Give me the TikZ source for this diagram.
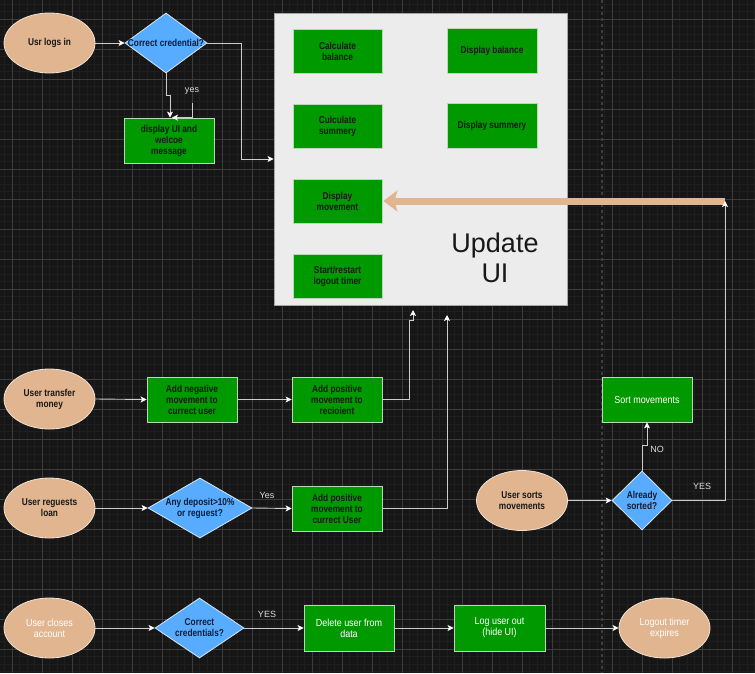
\documentclass[tikz,border=0pt]{standalone}
\usepackage{fontspec}
\setmainfont{Liberation Sans}
\newfontfamily\condb[FakeStretch=0.83]{Liberation Sans}
\newfontfamily\condr[FakeStretch=0.88]{Liberation Sans}
\usetikzlibrary{shapes.geometric,arrows.meta}
\definecolor{bg}{RGB}{22,22,22}
\definecolor{gmajor}{RGB}{60,60,60}
\definecolor{gminor}{RGB}{31,31,31}
\definecolor{dashc}{RGB}{62,62,62}
\definecolor{peach}{RGB}{225,181,143}
\definecolor{peachline}{RGB}{240,226,212}
\definecolor{dblue}{RGB}{88,172,255}
\definecolor{dialine}{RGB}{215,230,245}
\definecolor{dgreen}{RGB}{0,153,0}
\definecolor{boxline}{RGB}{185,215,185}
\definecolor{uifill}{RGB}{236,236,236}
\definecolor{uiline}{RGB}{165,165,165}
\definecolor{connc}{RGB}{205,205,205}
\definecolor{darktext}{RGB}{24,24,24}
\definecolor{diatext}{RGB}{16,28,52}
\definecolor{labc}{RGB}{220,220,220}
\tikzset{
  ell/.style={ellipse, draw=peachline, fill=peach, line width=0.8pt, minimum width=91pt, minimum height=60pt, inner sep=0pt, align=center},
  dia/.style={diamond, draw=dialine, fill=dblue, line width=0.8pt, inner sep=0pt},
  gbox/.style={rectangle, draw=boxline, fill=dgreen, line width=0.8pt, minimum width=90pt, minimum height=45pt, inner sep=0pt, align=center},
  btxt/.style={font=\condb\fontsize{10}{11}\selectfont\bfseries, text=darktext, align=center},
  dtxt/.style={font=\condb\fontsize{10}{11}\selectfont\bfseries, text=diatext, align=center, inner sep=0pt},
  wtxt/.style={font=\condr\fontsize{10.2}{11}\selectfont, text=white, align=center},
  lab/.style={font=\fontsize{9}{11}\selectfont, text=labc, inner sep=0pt},
  conn/.style={draw=connc, line width=0.9pt, -{Stealth[length=6pt,width=6pt,inset=1.5pt,color=white]}},
  orangearrow/.style={draw=peach, line width=7pt, -{Stealth[length=14pt,width=21pt,inset=3pt]}}
}
\begin{document}
\begin{tikzpicture}[x=1pt,y=-1pt]
\useasboundingbox (0,0) rectangle (755,673);
\fill[bg] (0,0) rectangle (755,673);
% minor grid
\foreach \i in {0,...,100} { \draw[gminor, line width=0.8pt] ({4.5+7.5*\i},0) -- ({4.5+7.5*\i},673); }
\foreach \i in {0,...,89} { \draw[gminor, line width=0.8pt] (0,{4+7.5*\i}) -- (755,{4+7.5*\i}); }
% major grid
\foreach \i in {0,...,24} { \draw[gmajor, line width=0.9pt] ({12+30*\i},0) -- ({12+30*\i},673); }
\foreach \i in {0,...,21} { \draw[gmajor, line width=0.9pt] (0,{19+30*\i}) -- (755,{19+30*\i}); }
% dashed separator
\draw[dashc, line width=1.6pt, dash pattern=on 3pt off 3pt] (602,0) -- (602,673);

% Update UI container
\node[rectangle, draw=uiline, fill=uifill, line width=0.8pt, minimum width=293pt, minimum height=292pt, inner sep=0pt] (U) at (420.5,159) {};
\node[font=\fontsize{27}{30}\selectfont, text=darktext, align=center] (ut) at (495,258) {Update\\UI};
\node[gbox, minimum width=89pt, minimum height=44pt] (cb) at (337.5,51) {};
\node[btxt] at (cb) {Calculate\\balance};
\node[gbox] (db) at (492,51) {};
\node[btxt] at (db) {Display balance};
\node[gbox, minimum width=89pt, minimum height=44pt] (cs) at (337.5,126) {};
\node[btxt] at (cs) {Culculate\\summery};
\node[gbox] (ds) at (492,126) {};
\node[btxt] at (ds) {Display summery};
\node[gbox, minimum width=89pt, minimum height=44pt] (dm) at (337.5,201) {};
\node[btxt] at (dm) {Display\\movement};
\node[gbox, minimum width=89pt, minimum height=44pt] (st) at (337.5,276) {};
\node[btxt] at (st) {Start/restart\\logout timer};

% Row 1: login
\node[ell] (e1) at (49.5,43) {};
\node[btxt] at (e1) {Usr logs in};
\node[dia, minimum width=82pt, minimum height=60pt] (d1) at (166,43) {};
\node[dtxt] at (d1) {Correct credential?};
\node[gbox] (b1) at (169,140.5) {};
\node[btxt] at (b1) {display UI and\\welcoe\\message};
\coordinate (yl) at (192,103);
\node[lab] (yeslab) at (192,91) {yes};

% Row 2: transfer
\node[ell] (e2) at (49.5,399) {};
\node[btxt] at (e2) {User transfer\\money};
\node[gbox] (b2) at (192,399.5) {};
\node[btxt] at (b2) {Add negative\\movement to\\currect user};
\node[gbox] (b3) at (337,399.5) {};
\node[btxt] at (b3) {Add positive\\movement to\\recioient};
\coordinate (t1) at (413,310);

% Row 3: loan
\node[ell] (e3) at (49.5,508) {};
\node[btxt] at (e3) {User reguests\\loan};
\node[dia, minimum width=104pt, minimum height=60pt] (d3) at (200,508) {};
\node[dtxt] at (d3) {Any deposit>10\%\\or reguest?};
\node[gbox] (b4) at (337,508.5) {};
\node[btxt] at (b4) {Add positive\\movement to\\currect User};
\node[lab] (yes3) at (267,495) {Yes};
\coordinate (t2) at (447,315);

% Sorting
\node[ell] (e4) at (522,500.5) {};
\node[btxt] at (e4) {User sorts\\movements};
\node[dia, minimum width=60pt, minimum height=59pt] (d4) at (642,500.5) {};
\node[dtxt] at (d4) {Already\\sorted?};
\node[gbox] (sm) at (647,399.5) {};
\node[wtxt] at (sm) {Sort movements};
\node[lab] (nolab) at (657,449) {NO};
\node[lab] (yes4) at (702,486) {YES};
\coordinate (oe) at (725,201);

% Row 4: close account
\node[ell] (e5) at (49.5,628) {};
\node[wtxt] at (e5) {User closes\\account};
\node[dia, minimum width=89pt, minimum height=60pt] (d5) at (199.5,628) {};
\node[dtxt] at (d5) {Correct\\credentials?};
\node[gbox, minimum height=46pt] (b5) at (349,628) {};
\node[wtxt] at (b5) {Delete user from\\data};
\node[gbox, minimum width=91pt, minimum height=46pt] (b6) at (499.5,628) {};
\node[wtxt] at (b6) {Log user out\\(hide UI)};
\node[ell] (e6) at (664.5,628) {};
\node[wtxt] at (e6) {Logout timer\\expires};
\node[lab] (yes5) at (267,614) {YES};

% connectors
\draw[conn] (e1.east) -- (d1.west);
\draw[conn] (d1.south) |- ++(4,22) -- ([xshift=1pt]b1.north);
\draw[conn] (yl) |- ([xshift=3pt]b1.north);
\draw[conn] (d1.east) -- ++(34,0) |- (U.west);

\draw[conn] (e2.east) -- (b2.west);
\draw[conn] (b2.east) -- (b3.west);
\draw[conn] (b3.east) -| (409,320) -| (t1);

\draw[conn] (e3.east) -- (d3.west);
\draw[conn] (d3.east) -- (b4.west);
\draw[conn] (b4.east) -| (t2);

\draw[conn] (e4.east) -- (d4.west);
\draw[conn] (d4.north) -- ++(0,-25) -| (sm.south);
\draw[orangearrow] (oe) -- ([xshift=1pt]dm.east);
\draw[conn] (d4.east) -| (oe);

\draw[conn] (e5.east) -- (d5.west);
\draw[conn] (d5.east) -- (b5.west);
\draw[conn] (b5.east) -- (b6.west);
\draw[conn] (b6.east) -- (e6.west);
\end{tikzpicture}
\end{document}
